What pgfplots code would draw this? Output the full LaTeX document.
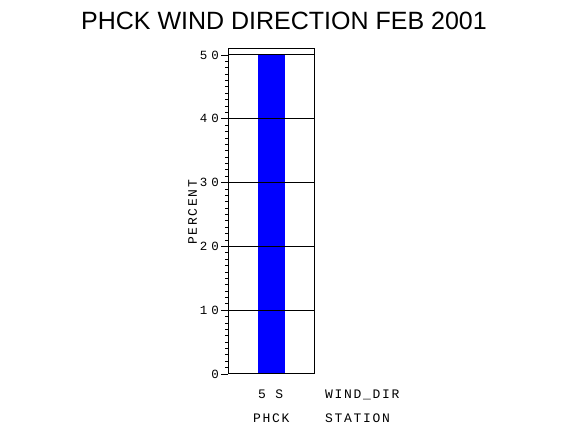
\documentclass[border=0pt]{standalone}
\usepackage{fontspec}
\setmainfont{Liberation Sans}
\newfontfamily\lblfont[LetterSpace=13]{Liberation Mono}
\newfontfamily\ticfont[LetterSpace=32]{Liberation Mono}
\usepackage{pgfplots}
\pgfplotsset{compat=1.18}
\begin{document}
\begin{tikzpicture}[x=1pt,y=1pt]
\path[use as bounding box] (0,0) rectangle (570,430);
\node[font=\fontsize{25}{30}\selectfont, anchor=base, inner sep=0pt] at (284,400) {PHCK WIND DIRECTION FEB 2001};
\begin{axis}[at={(228pt,56pt)}, anchor=south west, scale only axis,
  width=86pt, height=325pt,
  xmin=0, xmax=86, ymin=0, ymax=50.94,
  ybar, bar width=27pt,
  axis line style={line width=1pt},
  ymajorgrids, major grid style={black, line width=1pt},
  axis on top,
  ytick={0,10,...,50}, minor y tick num=9,
  tick align=outside, ytick pos=left, xtick=\empty,
  major tick length=7pt, minor tick length=3pt,
  tick style={black, line width=0.8pt},
  /pgf/number format/assume math mode=true,
  yticklabel style={font=\ticfont\fontsize{12.5}{13}\selectfont, inner sep=0pt, xshift=-2pt},
]
\addplot[fill=blue, draw=none] coordinates {(43.5,50)};
\end{axis}
\begin{scope}[every node/.style={font=\lblfont\fontsize{13}{14}\selectfont, inner sep=0pt}]
\node[anchor=base west] at (258,31) {5 S};
\node[anchor=base west] at (325,31) {WIND\_DIR};
\node[anchor=base west] at (253,7) {PHCK};
\node[anchor=base west] at (325,7) {STATION};
\node[rotate=90] at (192.5,217.5) {PERCENT};
\end{scope}
\end{tikzpicture}
\end{document}
